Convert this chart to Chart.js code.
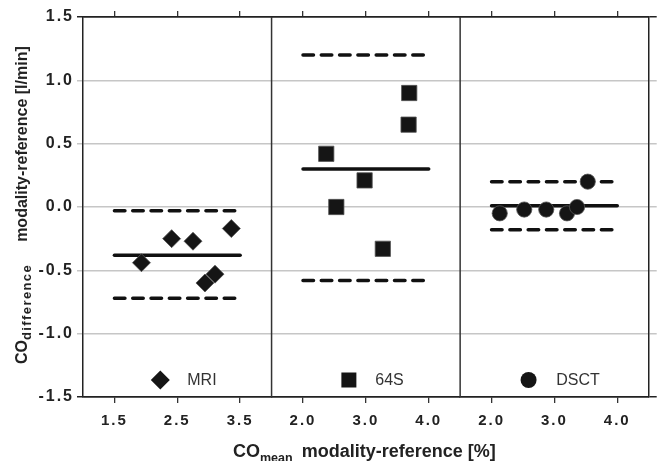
<!DOCTYPE html>
<html>
<head>
<meta charset="utf-8">
<script src="https://cdn.jsdelivr.net/npm/chart.js@4.4.0/dist/chart.umd.min.js"></script>
<style>
  body { margin: 0; background: #fff; }
  #wrap { position: relative; width: 661px; height: 461px; font-family: "Liberation Sans", Arial, sans-serif; color: #222; }
  canvas { position: absolute; left: 0; top: 0; }
  .title { position: absolute; white-space: nowrap; font-weight: bold; line-height: 1; }
  #xTitle { left: 233px; top: 442px; font-size: 18px; }
  #xTitle .sub { font-size: 12.5px; position: relative; top: 5px; margin-right: 9px; }
  #yTitle { left: 0; top: 0; font-size: 16px; transform-origin: 0 0; transform: translate(14px, 364px) rotate(-90deg); }
  #yTitle .sub { font-size: 13px; letter-spacing: 1.4px; position: relative; top: 4px; margin-right: 22px; }
</style>
</head>
<body>
<div id="wrap">
  <canvas id="chart" width="661" height="461"></canvas>
  <div class="title" id="yTitle">CO<span class="sub">difference</span>modality-reference [l/min]</div>
  <div class="title" id="xTitle">CO<span class="sub">mean</span>modality-reference [%]</div>
</div>
<script>
// data
const panelNames = ['MRI', '64S', 'DSCT'];
const mriX = [1.93, 2.41, 2.75, 2.94, 3.10, 3.36];
const mriY = [-0.44, -0.25, -0.27, -0.60, -0.53, -0.17];
const ctX = [2.37, 2.53, 2.98, 3.27, 3.68, 3.69];
const ctY = [0.42, 0.00, 0.21, -0.33, 0.65, 0.90];
const dsctX = [2.13, 2.52, 2.87, 3.20, 3.36, 3.53];
const dsctY = [-0.05, -0.02, -0.02, -0.05, 0.00, 0.20];
const meanDiff = [-0.38, 0.30, 0.01];
const lowerLoA = [-0.72, -0.58, -0.18];
const upperLoA = [-0.03, 1.20, 0.20];
const lineFrom = [1.5, 2.0, 2.0];
const lineTo = [3.5, 4.0, 4.0];
const xMin = [1.0, 1.5, 1.5];
const xMax = [4.0, 4.5, 4.5];
const xTicks = [[1.5, 2.5, 3.5], [2.0, 3.0, 4.0], [2.0, 3.0, 4.0]];
const yTicks = [-1.5, -1.0, -0.5, 0.0, 0.5, 1.0, 1.5];

const pointSets = [[mriX, mriY], [ctX, ctY], [dsctX, dsctY]];
const markers = ['rectRot', 'rect', 'circle'];
const markerRadius = [9, 10.8, 7.6];

Chart.defaults.font.family = '"Liberation Sans", Arial, sans-serif';

const gridColor = c => (Math.abs(c.tick.value) === 1.5 ? '#222' : '#c6c6c6');

const scales = {
  y: {
    type: 'linear', position: 'left', min: -1.5, max: 1.5,
    afterBuildTicks: s => { s.ticks = yTicks.map(v => ({ value: v })); },
    afterFit: s => { s.width = 83; },
    ticks: { callback: v => v.toFixed(1), font: { size: 16, weight: 'bold' }, color: '#222', padding: 3 },
    grid: { color: gridColor, lineWidth: 1.5, tickLength: 6 },
    border: { display: true, color: '#222', width: 1.5 }
  },
  y2: {
    type: 'linear', position: 'right', min: -1.5, max: 1.5,
    afterBuildTicks: s => { s.ticks = yTicks.map(v => ({ value: v })); },
    afterFit: s => { s.width = 9; },
    ticks: { display: false },
    grid: { drawOnChartArea: false, color: gridColor, lineWidth: 1.5, tickLength: 8 },
    border: { display: true, color: '#222', width: 1.5 }
  }
};

const datasets = [];
panelNames.forEach((name, i) => {
  const ticksFor = s => { s.ticks = xTicks[i].map(v => ({ value: v })); };
  scales['x' + i] = {
    type: 'linear', axis: 'x', position: 'bottom', stack: 'bottom', stackWeight: 1,
    min: xMin[i], max: xMax[i],
    afterBuildTicks: ticksFor,
    afterFit: s => { s.height = 64; },
    ticks: { callback: v => v.toFixed(1), font: { size: 15, weight: 'bold' }, color: '#222', padding: 9, maxRotation: 0, autoSkip: false },
    grid: { drawOnChartArea: false, color: '#333', lineWidth: 1.3, tickLength: 6 },
    border: { display: true, color: '#222', width: 1.5 }
  };
  scales['xTop' + i] = {
    type: 'linear', axis: 'x', position: 'top', stack: 'top', stackWeight: 1,
    min: xMin[i], max: xMax[i],
    afterBuildTicks: ticksFor,
    afterFit: s => { s.height = 17; },
    ticks: { display: false },
    grid: { drawOnChartArea: false, color: '#333', lineWidth: 1.3, tickLength: 6 },
    border: { display: true, color: '#222', width: 1.5 }
  };

  const [xs, ys] = pointSets[i];
  datasets.push({
    label: name, xAxisID: 'x' + i, yAxisID: 'y',
    data: xs.map((x, k) => ({ x: x, y: ys[k] })),
    pointStyle: markers[i], pointRadius: markerRadius[i],
    backgroundColor: '#151515', borderColor: '#555', borderWidth: 0.8,
    order: 0
  });
  [meanDiff, lowerLoA, upperLoA].forEach((vals, j) => {
    datasets.push({
      label: name + ' line ' + j, xAxisID: 'x' + i, yAxisID: 'y',
      data: [{ x: lineFrom[i], y: vals[i] }, { x: lineTo[i], y: vals[i] }],
      showLine: true, pointRadius: 0, fill: false,
      borderColor: '#111', borderWidth: 3.5, borderCapStyle: 'round',
      borderDash: j === 0 ? [] : [10.5, 7.8],
      order: 1
    });
  });
});

// legend inside each panel + panel dividers
const legendMark = [0.41, 0.41, 0.363];
const legendText = [0.553, 0.55, 0.51];
const panelDecor = {
  id: 'panelDecor',
  beforeDraw(chart) { chart.ctx.letterSpacing = '2px'; },
  afterDatasetsDraw(chart) {
    const { ctx, chartArea } = chart;
    const y = chartArea.bottom - 17;
    ctx.save();
    ctx.letterSpacing = '0px';
    panelNames.forEach((name, i) => {
      const s = chart.scales['x' + i];
      const mx = s.left + legendMark[i] * s.width;
      ctx.fillStyle = '#151515';
      ctx.beginPath();
      if (i === 0) {
        ctx.moveTo(mx, y - 9.5); ctx.lineTo(mx + 9.5, y); ctx.lineTo(mx, y + 9.5); ctx.lineTo(mx - 9.5, y);
        ctx.closePath();
      } else if (i === 1) {
        ctx.rect(mx - 7.5, y - 7.5, 15, 15);
      } else {
        ctx.arc(mx, y, 8, 0, Math.PI * 2);
      }
      ctx.fill();
      ctx.fillStyle = '#333';
      ctx.font = '16px "Liberation Sans", Arial, sans-serif';
      ctx.textBaseline = 'middle';
      ctx.textAlign = 'left';
      ctx.fillText(name, s.left + legendText[i] * s.width, y + 1);
    });
    ctx.restore();
  },
  afterDraw(chart) {
    const { ctx, chartArea } = chart;
    ctx.save();
    ctx.strokeStyle = '#333';
    ctx.lineWidth = 1.5;
    [1, 2].forEach(i => {
      const x = chart.scales['x' + i].left;
      ctx.beginPath();
      ctx.moveTo(x, chartArea.top);
      ctx.lineTo(x, chartArea.bottom);
      ctx.stroke();
    });
    ctx.restore();
  }
};

new Chart(document.getElementById('chart'), {
  type: 'scatter',
  data: { datasets: datasets },
  options: {
    responsive: false,
    animation: false,
    devicePixelRatio: 1,
    layout: { padding: 0 },
    plugins: { legend: { display: false }, tooltip: { enabled: false } },
    scales: scales
  },
  plugins: [panelDecor]
});
</script>
</body>
</html>
